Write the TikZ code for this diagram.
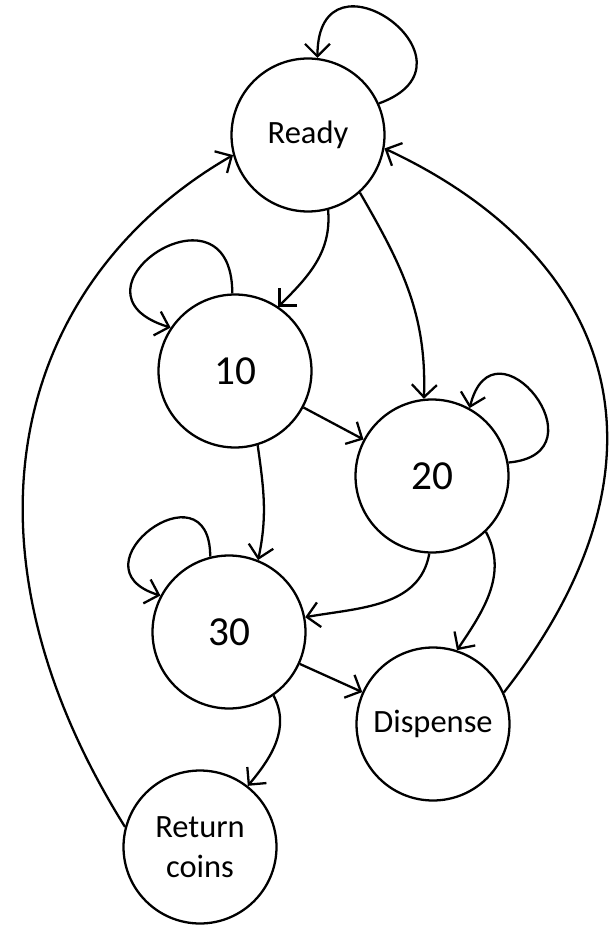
\documentclass[tikz,border=0pt]{standalone}
\usepackage{fontspec}
\setmainfont{Carlito}
\usetikzlibrary{arrows.meta}

\begin{document}
\begin{tikzpicture}[
    x=0.02cm, y=0.02cm,
    state/.style={circle, draw, line width=1.3pt, minimum size=3.06cm, inner sep=0pt, align=center, font=\fontsize{18.5}{22.5}\selectfont},
    amount/.style={state, font=\fontsize{23.5}{28}\selectfont},
    arrow/.style={-{Straight Barb[length=2.5mm, width=5mm]}, line width=1.3pt}
]

\useasboundingbox (0,0) rectangle (611,-925);

% States
\node[state] (ready) at (308,-135) {Ready};
\node[amount] (ten) at (235,-371) {10};
\node[amount] (twenty) at (432,-476) {20};
\node[amount] (thirty) at (229,-632) {30};
\node[state] (dispense) at (433,-724) {Dispense};
\node[state] (coins) at (200,-847) {Return\\coins};

% Self loops
\draw[arrow] (ready.24) to[out=20, in=90, looseness=4] (ready.83);
\draw[arrow] (ten.92) to[out=90, in=163, looseness=4.4] (ten.146);
\draw[arrow] (twenty.10) to[out=5, in=76, looseness=3.8] (twenty.61);
\draw[arrow] (thirty.104) to[out=90, in=163, looseness=3.9] (thirty.152);

% Transitions
\draw[arrow] (ready.-75) to[out=-85, in=45] (ten.56);
\draw[arrow] (ready.-48) to[out=-60, in=88] (twenty.96);
\draw[arrow] (ten) -- (twenty);
\draw[arrow] (ten.-73) to[out=-82, in=78] (thirty.68);
\draw[arrow] (twenty.-92) to[out=-100, in=10] (thirty.11);
\draw[arrow] (twenty.-46) to[out=-62, in=56] (dispense.72);
\draw[arrow] (thirty) -- (dispense);
\draw[arrow] (thirty.-55) to[out=-62, in=50] (coins.52);

% Back to ready
\draw[arrow] (coins.165) to[out=122, in=210, out distance=6.8cm, in distance=5cm] (ready.195);
\draw[arrow] (dispense.24) to[out=52, in=-25, out distance=6cm, in distance=5cm] (ready.-10);

\end{tikzpicture}
\end{document}
